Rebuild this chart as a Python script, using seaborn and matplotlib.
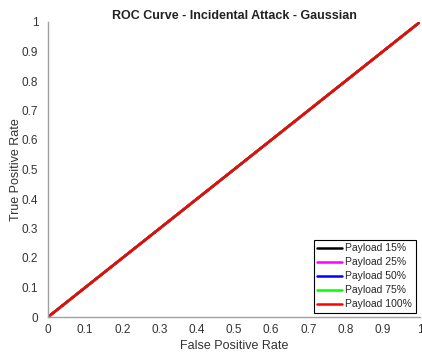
import matplotlib
matplotlib.use("Agg")
import matplotlib.pyplot as plt
import seaborn as sns
import pandas as pd

sns.set_style("white")
plt.rcParams['font.family'] = ['Liberation Sans', 'DejaVu Sans']

labels = ["Payload 15%", "Payload 25%", "Payload 50%", "Payload 75%", "Payload 100%"]
colors = ["#000000", "#ff00ff", "#0000ff", "#00ff00", "#ff0000"]
fpr = [0.0, 1.0]
tpr = [0.0, 1.0]
xticks = [0, 0.1, 0.2, 0.3, 0.4, 0.5, 0.6, 0.7, 0.8, 0.9, 1]
ticklabels = ["0", "0.1", "0.2", "0.3", "0.4", "0.5", "0.6", "0.7", "0.8", "0.9", "1"]

rows = []
for lab in labels:
    for x, y in zip(fpr, tpr):
        rows.append({"FPR": x, "TPR": y, "Series": lab})
df = pd.DataFrame(rows)

fig = plt.figure(figsize=(4.22, 3.56), dpi=100)
ax = fig.add_axes([48/422, 39/356, 372/422, 295/356])
sns.lineplot(data=df, x="FPR", y="TPR", hue="Series", hue_order=labels,
             palette=colors, linewidth=1.8, ax=ax, legend=True)

ax.set_xlim(0, 1)
ax.set_ylim(0, 1)
ax.set_xticks(xticks)
ax.set_xticklabels(ticklabels)
ax.set_yticks(xticks)
ax.set_yticklabels(ticklabels)
gray = "#404040"
for s in ["top", "right"]:
    ax.spines[s].set_visible(False)
for s in ["left", "bottom"]:
    ax.spines[s].set_color("#a0a0a0")
    ax.spines[s].set_linewidth(1.0)
ax.tick_params(direction="in", length=3, width=0.8, color=gray, labelcolor="#333333",
               labelsize=8.5)
ax.tick_params(axis="x", pad=5)
ax.tick_params(axis="y", pad=7)
ax.set_xlabel("False Positive Rate", fontsize=9, color="#333333", labelpad=3)
ax.set_ylabel("True Positive Rate", fontsize=9, color="#333333")
ax.yaxis.set_label_coords(-0.07, 0.5)
ax.set_title("ROC Curve - Incidental Attack - Gaussian", fontsize=9, fontweight="bold",
             color="#222222", pad=2)

leg = ax.legend(loc="lower right", fontsize=7.5, frameon=True, fancybox=False,
                edgecolor="#000000", framealpha=1, handlelength=2.4, handletextpad=0.3,
                borderpad=0.35, labelspacing=0.38, borderaxespad=0.4)
leg.get_frame().set_linewidth(0.8)
for h in leg.get_lines():
    h.set_linewidth(1.8)

fig.savefig("out.png", dpi=100)
